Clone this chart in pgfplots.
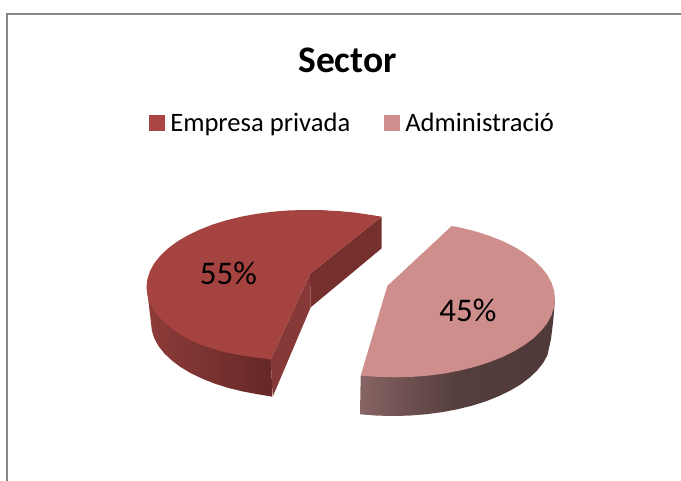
\documentclass[border=0pt]{standalone}
\usepackage{fontspec}
\setmainfont{Carlito}
\usepackage{pgfplots}
\pgfplotsset{compat=1.18}

\definecolor{redtop}{RGB}{165,67,64}
\definecolor{redleg}{RGB}{170,70,67}
\definecolor{redback}{RGB}{117,48,45}
\definecolor{redfront}{RGB}{134,57,54}
\definecolor{pinktop}{RGB}{206,143,140}
\definecolor{frame}{RGB}{134,134,134}

% side walls of the two slices, the box of a path runs from 25bp to 75bp
\pgfdeclarehorizontalshading{pinkside}{100bp}{
  rgb(0bp)=(0.533,0.392,0.392);
  rgb(25bp)=(0.533,0.392,0.392);
  rgb(37bp)=(0.431,0.314,0.314);
  rgb(50bp)=(0.333,0.243,0.243);
  rgb(75bp)=(0.314,0.220,0.220);
  rgb(100bp)=(0.314,0.220,0.220)}
\pgfdeclarehorizontalshading{redside}{100bp}{
  rgb(0bp)=(0.553,0.235,0.224);
  rgb(25bp)=(0.553,0.235,0.224);
  rgb(50bp)=(0.475,0.196,0.188);
  rgb(75bp)=(0.392,0.157,0.149);
  rgb(100bp)=(0.392,0.157,0.149)}

\begin{document}
\begin{tikzpicture}
\useasboundingbox (0,0) rectangle (681pt,481pt);
\begin{axis}[
  scale only axis, width=681pt, height=481pt,
  xmin=0, xmax=681, ymin=0, ymax=481, y dir=reverse,
  axis lines=none, clip=true,
  legend columns=2,
  legend cell align=left,
  legend style={at={(axis cs:352.6,123)}, anchor=center, draw=none, fill=none,
    font=\fontsize{26.6}{26.6}\selectfont, inner sep=0pt,
    /tikz/every odd column/.style={column sep=4pt},
    /tikz/every even column/.style={column sep=32pt}},
  legend image code/.code={\fill[#1] (0pt,-7.3pt) rectangle (14.6pt,7.3pt);},
]
% frame of the chart area
\addplot[frame, line width=1.6pt, forget plot] coordinates {(7,481) (7,14) (681,14)};

% legend keys
\addlegendimage{redleg}
\addlegendentry{Empresa privada}
\addlegendimage{pinktop}
\addlegendentry{Administració}

% Empresa privada, outer side
\addplot[draw=none, shading=redside, forget plot] coordinates {
  (146.7,287) (151,323) (151.9,330.8) (154.4,338.6) (158.6,346.2) (164.4,353.5)
  (171.8,360.5) (180.6,367.1) (190.8,373.2) (202.3,378.7) (214.9,383.7)
  (228.5,388) (243,391.5) (258.1,394.3) (272.7,396.7) (270.7,359.3)} -- cycle;
% Empresa privada, cut faces
\addplot[draw=none, fill=redback, forget plot] coordinates {
  (381.7,216.7) (381.7,248.3) (310.7,307.3) (310,274)} -- cycle;
\addplot[draw=none, fill=redfront, forget plot] coordinates {
  (310,274) (310.7,307.3) (272.7,396.7) (270.7,359.3)} -- cycle;
% Empresa privada, top
\addplot[draw=none, fill=redtop, forget plot] coordinates {
  (381.7,216.7) (370,214.8) (355,212.6) (340,211.2) (322.7,210.2) (306,210)
  (289.3,210.4) (272.8,211.7) (256.7,213.8) (241.1,216.7) (226.3,220.3)
  (212.2,224.7) (199.3,229.8) (187.5,235.5) (177,241.7) (167.9,248.5)
  (160.3,255.7) (154.3,263.2) (150,271) (147.4,279) (146.5,287) (147.4,295)
  (150,303) (154.3,310.8) (160.3,318.3) (167.9,325.5) (177,332.3) (187.5,338.5)
  (199.3,344.2) (212.2,348.5) (226.3,352.5) (241.1,355.3) (256.7,357.6)
  (270.7,359.3) (310,274)} -- cycle;

% Administracio, outer side
\addplot[draw=none, shading=pinkside, forget plot] coordinates {
  (555,299) (553.3,320) (551,339) (547.5,355) (543.3,362.8) (537.3,370.3)
  (529.8,377.5) (520.8,384.3) (510.4,390.5) (498.7,396.2) (485.9,401.3)
  (472,405.7) (457.3,409.3) (441.8,412.2) (425.9,414.3) (409.5,415.6) (393,416)
  (376.5,415.6) (360,414.3) (360.7,375.7)} -- cycle;
% Administracio, top
\addplot[draw=none, fill=pinktop, forget plot] coordinates {
  (451.7,226) (460.1,227.5) (475,231.2) (489,235.7) (502.1,240.8) (513.9,246.6)
  (524.4,253) (533.6,259.9) (541.2,267.2) (547.2,274.8) (551.5,282.7) (554.1,290.8)
  (555,299) (554.1,307.2) (551.5,315.3) (547.2,323.2) (541.2,330.8) (533.6,338.2)
  (524.4,345) (513.9,351.4) (502.1,357.2) (489,362.3) (475,366.8) (460.1,370.5)
  (444.4,373.5) (428.3,375.6) (411.7,376.9) (395,377.3) (378.3,376.9) (360.7,375.7)
  (387.3,286)} -- cycle;

\node[font=\bfseries\fontsize{37.5}{37.5}\selectfont] at (axis cs:347.5,60) {Sector};
\node[font=\fontsize{33}{33}\selectfont] at (axis cs:228.5,273) {55\%};
\node[font=\fontsize{33}{33}\selectfont] at (axis cs:468,310) {45\%};
\end{axis}
\end{tikzpicture}
\end{document}
